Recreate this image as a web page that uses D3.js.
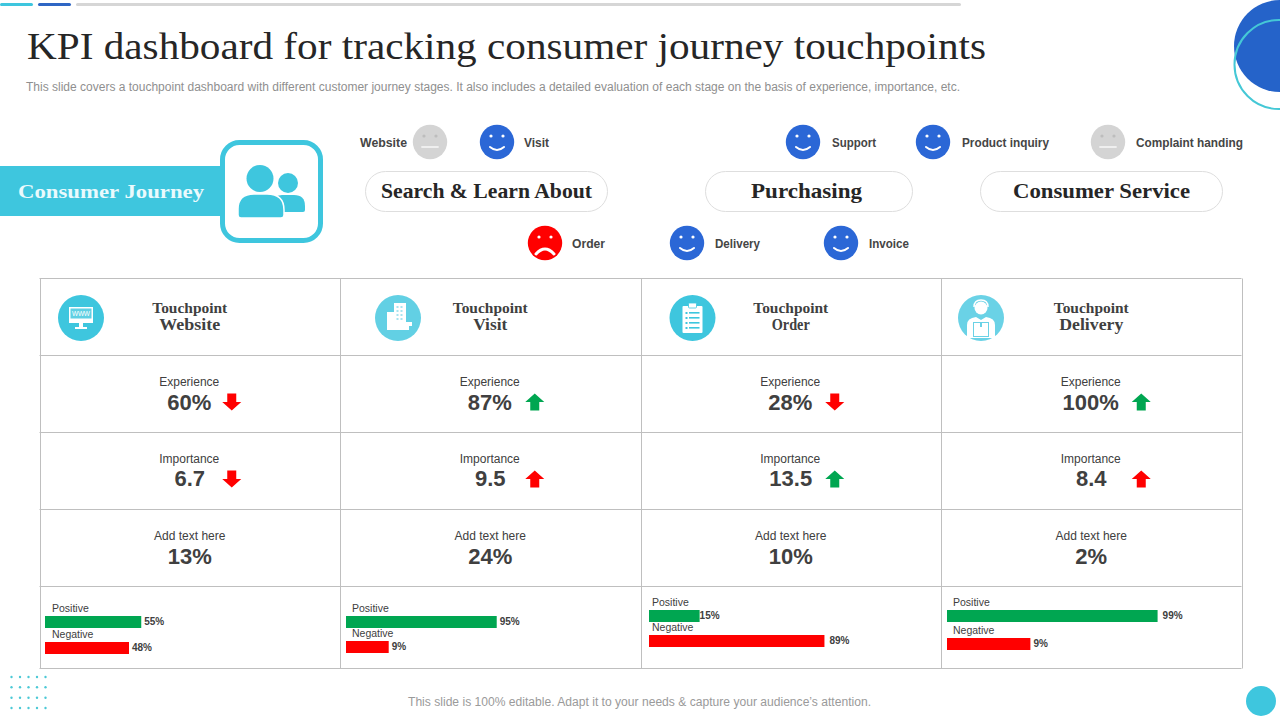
<!DOCTYPE html>
<html><head><meta charset="utf-8">
<script src="https://cdn.jsdelivr.net/npm/d3@7/dist/d3.min.js"></script>
<style>html,body{margin:0;padding:0;background:#fff;overflow:hidden}svg{display:block}</style>
</head><body><svg id="c" width="1280" height="720"></svg>
<script>
const touchpoints = ["Website","Visit","Order","Delivery"];
const experience = [60,87,28,100];
const experienceTrend = ["down","up","down","up"];
const experienceArrow = ["red","green","red","green"];
const importance = [6.7,9.5,13.5,8.4];
const importanceTrend = ["down","up","up","up"];
const importanceArrow = ["red","red","green","red"];
const addText = [13,24,10,2];
const positive = [55,95,15,99];
const negative = [48,9,89,9];
const seriesNames = ["Positive","Negative"];
const stages = ["Search & Learn About","Purchasing","Consumer Service"];
const faceLabels = ["Website","Visit","Support","Product inquiry","Complaint handing","Order","Delivery","Invoice"];
const faceMoods = ["neutral","happy","happy","happy","neutral","sad","happy","happy"];

const TEAL="#3ec6de", BLUE="#2b67d6", GREY="#d4d4d4", RED="#ff0000", GREEN="#00a651", INK="#404040", LINE="#bfbfbf";
const SERIF="Georgia,'Liberation Serif',serif", SANS="'Liberation Sans',Arial,sans-serif";
const svg=d3.select("#c");

function T(s,x,y,o={}){
  const t=svg.append("text").attr("x",x).attr("y",y).text(s)
    .attr("font-family",o.font||SANS).attr("font-size",o.size||12)
    .attr("font-weight",o.weight||"normal").attr("fill",o.fill||INK)
    .attr("text-anchor",o.anchor||"start");
  if(o.width) t.attr("textLength",o.width).attr("lengthAdjust","spacingAndGlyphs");
  return t;
}

// top rule
[[0,33,TEAL],[38,33,"#2f66c4"],[76,885,"#d6d6d6"]].forEach(([x,w,c])=>
  svg.append("rect").attr("x",x).attr("y",3).attr("width",w).attr("height",3).attr("rx",1.5).attr("fill",c));

// corner decor
svg.append("circle").attr("cx",1280).attr("cy",46).attr("r",46).attr("fill","#2563c9");
svg.append("circle").attr("cx",1279).attr("cy",64.5).attr("r",44.5).attr("fill","none").attr("stroke","#45c8d6").attr("stroke-width",2);

T("KPI dashboard for tracking consumer journey touchpoints",27,59,{font:"'Liberation Serif',serif",size:38.5,fill:"#262626",width:959});
T("This slide covers a touchpoint dashboard with different customer journey stages. It also includes a detailed evaluation of each stage on the basis of experience, importance, etc.",26,91,{size:12,fill:"#8f8f8f",width:934});

// consumer journey banner
svg.append("rect").attr("x",0).attr("y",166).attr("width",224).attr("height",50).attr("fill",TEAL);
svg.append("rect").attr("x",222.5).attr("y",142.5).attr("width",98).attr("height",98).attr("rx",17)
  .attr("fill","#fff").attr("stroke",TEAL).attr("stroke-width",5);
T("Consumer Journey",18,198,{font:"'Liberation Serif',serif",weight:"bold",size:19.5,fill:"#eafafd",width:186});
// people glyph
svg.append("circle").attr("cx",288).attr("cy",183).attr("r",10).attr("fill",TEAL);
svg.append("path").attr("d","M272 212 V205 Q272 195 282 195 H294 Q305 195 305 206 V210 Q305 212 303 212 Z").attr("fill",TEAL);
svg.append("circle").attr("cx",260).attr("cy",178.5).attr("r",13.5).attr("fill",TEAL);
svg.append("path").attr("d","M238 215 V209 Q238 194 254 194 H267 Q284 194 284 210 V215 Q284 218 281 218 H241 Q238 218 238 215 Z")
  .attr("fill",TEAL).attr("stroke","#fff").attr("stroke-width",1.5);

// smiley faces
const faceX=[430,497,803,933,1108,545,687,841];
const faceY=[142,142,142,142,142,243,243,243];
const labelX=[407,524,832,962,1136,572,715,869];
const labelW=[47,25,44,87,107,33,45,40];
faceLabels.forEach((l,i)=>{
  const m=faceMoods[i], c=m==="happy"?BLUE:m==="sad"?RED:GREY, x=faceX[i], y=faceY[i];
  const g=svg.append("g").attr("transform",`translate(${x},${y})`);
  g.append("circle").attr("r",17.2).attr("fill",c);
  const ink=m==="neutral"?"#efefef":"#fff";
  g.selectAll(".e").data([-6,6]).join("circle").attr("cx",d=>d).attr("cy",-6).attr("r",1.6).attr("fill",m==="neutral"?"#bdbdbd":ink);
  g.append("path").attr("fill","none").attr("stroke",ink).attr("stroke-linecap","round")
    .attr("stroke-width",m==="sad"?3:m==="neutral"?1.8:2)
    .attr("d",m==="happy"?"M-7 5 Q0 11 7 5":m==="sad"?"M-9 11 Q0 1 9 11":"M-8 5 H8");
  T(l,i===0?360:labelX[i],y+5,{size:12,weight:"bold",fill:"#454545",width:labelW[i]});
});

// stage pills
const pillX=[365,705,980], pillW=[243,208,243], stageX=[486.5,806.5,1101.5], stageW=[211,111,177];
stages.forEach((s,i)=>{
  svg.append("rect").attr("x",pillX[i]+.5).attr("y",171.5).attr("width",pillW[i]-1).attr("height",40).attr("rx",20)
    .attr("fill","#fff").attr("stroke","#dedede").attr("stroke-width",1);
  T(s,stageX[i],198,{font:"'Liberation Serif',serif",weight:"bold",size:21,fill:"#262626",anchor:"middle",width:stageW[i]});
});

// table
const col=d3.scaleBand().domain(touchpoints).range([39.5,1241.5]);
const rowEdges=[278.5,355.5,432.5,509.5,586.5,668.5];
svg.append("g").selectAll("line").data(rowEdges).join("line")
  .attr("x1",39.5).attr("x2",1241.5).attr("y1",d=>d).attr("y2",d=>d).attr("stroke",LINE);
svg.append("g").selectAll("line").data(touchpoints.map(t=>col(t)).concat([1241.5])).join("line")
  .attr("y1",278.5).attr("y2",668.5).attr("x1",d=>Math.round(d)+.5).attr("x2",d=>Math.round(d)+.5).attr("stroke",LINE);

const iconX=[81,398,692.5,981], iconFill=["#3ec6de","#62d0e4","#3ec6de","#6ad2e6"];
const nameW=[61,34,38,64];
const W="#fff";
const icons=[
 g=>{g.append("rect").attr("x",-12).attr("y",-11).attr("width",24).attr("height",16).attr("fill",W);
     g.append("rect").attr("x",-10.5).attr("y",-9.5).attr("width",21).attr("height",10).attr("fill","#5fd0e3");
     g.append("text").attr("x",0).attr("y",-2).text("WWW").attr("text-anchor","middle").attr("font-family",SANS).attr("font-size",6.5).attr("fill",W).attr("textLength",18);
     g.append("path").attr("d","M-2 5H2V9H6V11H-6V9H-2Z").attr("fill",W);},
 g=>{g.append("rect").attr("x",-4).attr("y",-15).attr("width",12).attr("height",27).attr("fill",W);
     g.append("rect").attr("x",-11).attr("y",-6).attr("width",7).attr("height",18).attr("fill",W);
     g.append("path").attr("d","M5 4H14V8H11V12H5Z").attr("fill",W);
     d3.range(4).forEach(r=>{[-1.5,2.5].forEach(x=>g.append("rect").attr("x",x).attr("y",-12+r*4).attr("width",2).attr("height",2).attr("fill","#a8e4ef"));});},
 g=>{g.append("rect").attr("x",-10).attr("y",-12).attr("width",20).attr("height",27).attr("rx",1).attr("fill",W);
     g.append("rect").attr("x",-4).attr("y",-15).attr("width",8).attr("height",5).attr("rx",1).attr("fill",W).attr("stroke",iconFill[2]).attr("stroke-width",.8);
     d3.range(4).forEach(r=>{g.append("rect").attr("x",-7).attr("y",-6+r*5).attr("width",2).attr("height",2).attr("fill",iconFill[2]);
       g.append("rect").attr("x",-3.5).attr("y",-6+r*5).attr("width",10.5).attr("height",1.6).attr("fill",iconFill[2]);});},
 g=>{g.append("circle").attr("cx",0).attr("cy",-10).attr("r",6.5).attr("fill",W);
     g.append("path").attr("d","M-7 -11 Q-7 -18 0 -18 Q7 -18 7 -11").attr("fill","none").attr("stroke",W).attr("stroke-width",1.5);
     g.append("path").attr("d","M-14 20 V7 Q-14 0 -5 -1 L0 2 L5 -1 Q14 0 14 7 V20 Z").attr("fill",W);
     g.append("rect").attr("x",-8).attr("y",4).attr("width",16).attr("height",15).attr("fill",iconFill[3]);
     g.append("rect").attr("x",-7).attr("y",5).attr("width",14).attr("height",13).attr("fill",W);
     g.append("rect").attr("x",-1).attr("y",5).attr("width",2).attr("height",4).attr("fill",iconFill[3]);}
];
const arrowDx=[42,44.5,44,50];
function arrow(x,y,dir,color){
  const s=dir==="up"?-1:1; // y is arrow centre
  const p=[[-4.5,-8.5],[4.5,-8.5],[4.5,0],[9.5,0],[0,8.5],[-9.5,0],[-4.5,0]];
  svg.append("polygon").attr("points",p.map(([a,b])=>[x+a,y+b*s].join(",")).join(" ")).attr("fill",color==="red"?RED:GREEN);
}
const pct=d=>d+"%";
touchpoints.forEach((t,i)=>{
  const cx=col(t)+col.bandwidth()/2;
  const g=svg.append("g").attr("transform",`translate(${iconX[i]},318)`);
  g.append("circle").attr("r",23).attr("fill",iconFill[i]);
  icons[i](g);
  T("Touchpoint",cx,313,{font:"'Liberation Serif',serif",weight:"bold",size:15,anchor:"middle",width:75});
  T(t,cx,330,{font:"'Liberation Serif',serif",weight:"bold",size:16,anchor:"middle",width:nameW[i]});

  T("Experience",cx-.5,386,{anchor:"middle",size:12});
  T(pct(experience[i]),cx-.5,410,{anchor:"middle",size:22,weight:"bold"});
  arrow(cx+arrowDx[i],402,experienceTrend[i],experienceArrow[i]);

  T("Importance",cx-.5,463,{anchor:"middle",size:12});
  T(importance[i].toFixed(1),cx,486,{anchor:"middle",size:22,weight:"bold"});
  arrow(cx+arrowDx[i],479,importanceTrend[i],importanceArrow[i]);

  T("Add text here",cx,540,{anchor:"middle",size:12});
  T(pct(addText[i]),cx,564,{anchor:"middle",size:22,weight:"bold"});
});

// per-cell bar charts; every cell in the source has its own truncated value axis
const barLeft=[45,346,649,947], labelLeft=[52,352,652,953];
const axisFloor=[0,-25,-15,-50], barSpan=[175,157,194,212];
const posTop=[616,616,610,610], negTop=[642,641,635,638];
const valueGap=[3,3,0,5];
touchpoints.forEach((t,i)=>{
  const x=d3.scaleLinear().domain([axisFloor[i],100]).range([barLeft[i],barLeft[i]+barSpan[i]]);
  const y=d3.scalePoint().domain(seriesNames).range([posTop[i],negTop[i]]);
  [[seriesNames[0],positive[i],GREEN],[seriesNames[1],negative[i],RED]].forEach(([n,v,c],k)=>{
    svg.append("rect").attr("x",x(axisFloor[i])).attr("y",y(n)).attr("width",x(v)-x(axisFloor[i])).attr("height",12).attr("fill",c);
    T(n,labelLeft[i],y(n)-4,{size:10.5});
    const gap=(i===2&&k===1)?5:(i===3&&k===1)?3:valueGap[i];
    T(pct(v),x(v)+gap,y(n)+9,{size:10,weight:"bold"});
  });
});

// footer
T("This slide is 100% editable. Adapt it to your needs & capture your audience’s attention.",408,706,{size:12,fill:"#9a9a9a",width:463});
svg.append("circle").attr("cx",1261).attr("cy",701).attr("r",15).attr("fill",TEAL);
svg.append("g").selectAll("circle").data(d3.cross([11.5,20,28.5,37,45.5],[677,687.3,697.7,708])).join("circle")
  .attr("cx",d=>d[0]).attr("cy",d=>d[1]).attr("r",1.2).attr("fill","#4cc9d6");
</script></body></html>
